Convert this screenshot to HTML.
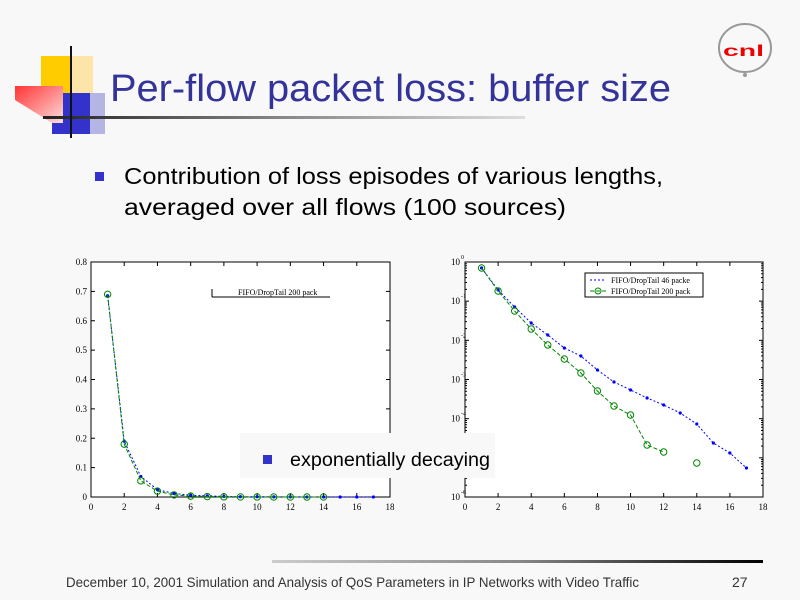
<!DOCTYPE html>
<html><head><meta charset="utf-8"><style>
html,body{margin:0;padding:0;background:#f8f8f8;}
svg{display:block;font-family:"Liberation Sans",sans-serif;}
</style></head><body>
<svg id="s" width="800" height="600" viewBox="0 0 800 600" xmlns="http://www.w3.org/2000/svg">
<defs>
<linearGradient id="tl" x1="0" x2="1"><stop offset="0" stop-color="#222"/><stop offset="0.5" stop-color="#888"/><stop offset="1" stop-color="#ddd"/></linearGradient>
<linearGradient id="fl" x1="0" x2="1"><stop offset="0" stop-color="#ccc"/><stop offset="0.5" stop-color="#888"/><stop offset="1" stop-color="#000"/></linearGradient>
<linearGradient id="rd" x1="0" y1="0" x2="1" y2="1"><stop offset="0" stop-color="#f33"/><stop offset="1" stop-color="#fdd"/></linearGradient>
</defs>
<rect width="800" height="600" fill="#f8f8f8"/>
<rect x="41" y="56" width="30" height="37" fill="#fc0"/>
<rect x="71" y="56" width="22" height="37" fill="#fd8" opacity="0.7"/>
<rect x="52" y="93" width="38" height="41" fill="#33c"/>
<rect x="90" y="93" width="15" height="41" fill="#99d" opacity="0.7"/>
<polygon points="15,86 63,86 63,123 52,123 15,100" fill="url(#rd)"/>
<rect x="43" y="116" width="482" height="3" fill="url(#tl)"/>
<rect x="70" y="46" width="2" height="92" fill="#111"/>
<text x="110" y="101" font-size="38" fill="#333399" textLength="561" lengthAdjust="spacingAndGlyphs">Per-flow packet loss: buffer size</text>
<ellipse cx="745" cy="48" rx="26" ry="24" fill="none" stroke="#999" stroke-width="2"/>
<circle cx="745" cy="75" r="2" fill="#999"/>
<text x="723" y="56" font-size="16" font-weight="bold" fill="#e00" textLength="41" lengthAdjust="spacingAndGlyphs">cnl</text>
<rect x="95" y="172" width="9" height="9" fill="#3333cc"/>
<text x="124" y="184" font-size="23" fill="#000" textLength="539" lengthAdjust="spacingAndGlyphs">Contribution of loss episodes of various lengths,</text>
<text x="124" y="215" font-size="23" fill="#000" textLength="442" lengthAdjust="spacingAndGlyphs">averaged over all flows (100 sources)</text>
<g id="charts" font-family="Liberation Serif,serif"></g>
<rect x="240" y="433" width="255" height="45" fill="#f8f8f8"/>
<rect x="263" y="455" width="9" height="9" fill="#3333cc"/>
<text x="290" y="466" font-size="19" fill="#000" textLength="200" lengthAdjust="spacingAndGlyphs">exponentially decaying</text>
<rect x="272" y="560" width="491" height="3" fill="url(#fl)"/>
<text x="66" y="587" font-size="14" fill="#333" textLength="573" lengthAdjust="spacingAndGlyphs">December 10, 2001 Simulation and Analysis of QoS Parameters in IP Networks with Video Traffic</text>
<text x="732" y="587" font-size="14" fill="#333">27</text>
</svg>
<script>
var g=document.getElementById('charts'),NS="http://www.w3.org/2000/svg";
function el(t,a,txt){var e=document.createElementNS(NS,t);for(var k in a)e.setAttribute(k,a[k]);if(txt!=null)e.textContent=txt;g.appendChild(e);return e;}
function axes(x0,x1,y0,y1){
 el('rect',{x:x0,y:y0,width:x1-x0,height:y1-y0,fill:'#fff',stroke:'#000','stroke-width':1});
 for(var i=0;i<=18;i+=2){var x=x0+(x1-x0)*i/18;el('line',{x1:x,x2:x,y1:y1,y2:y1-4,stroke:'#000'});el('line',{x1:x,x2:x,y1:y0,y2:y0+4,stroke:'#000'});el('text',{x:x,y:y1+13,'font-size':9,'text-anchor':'middle'},i);}
}
function series(pts,col,mk){
 el('polyline',{points:pts.map(p=>p.join(',')).join(' '),fill:'none',stroke:col,'stroke-width':1,'stroke-dasharray':mk=='o'?'4,2':'2,2'});
 pts.forEach(p=>{if(mk=='o')el('circle',{cx:p[0],cy:p[1],r:3.2,fill:'none',stroke:col});else el('circle',{cx:p[0],cy:p[1],r:1.6,fill:col});});
}
var L0=91,L1=390,T=262,B=497;
axes(L0,L1,T,B);
for(var v=0;v<=8;v++){var y=B-(B-T)*v/8;el('text',{x:L0-4,y:y+3,'font-size':9,'text-anchor':'end'},v==0?'0':(v/10).toFixed(1));el('line',{x1:L0,x2:L0+4,y1:y,y2:y,stroke:'#000'});el('line',{x1:L1,x2:L1-4,y1:y,y2:y,stroke:'#000'});}
var bl=[.685,.19,.07,.025,.012,.006,.004,.002,.001,.001,.0005,.0003,.0002,.0002,.0001,.0001,0.0001];
var gl=[.69,.18,.055,.02,.007,.003,.0015,.0006,.0002,.0001,.00003,.00002,0,.00001];
series(bl.map((v,i)=>[L0+(L1-L0)*(i+1)/18,B-v*(B-T)/0.8]),'#00f','.');
series(gl.map((v,i)=>[L0+(L1-L0)*(i+1)/18,B-v*(B-T)/0.8]),'#080','o');
el('rect',{x:212,y:281,width:118,height:12,fill:'#fff'});
el('line',{x1:212,x2:330,y1:297,y2:297,stroke:'#000'});
el('line',{x1:212,x2:212,y1:289,y2:297,stroke:'#000'});
el('text',{x:238,y:295,'font-size':8},'FIFO/DropTail 200 pack');
var R0=465,R1=763,ND=6,DH=(B-T)/ND;
axes(R0,R1,T,B);
for(var d=0;d<=ND;d++){var y=T+DH*d;
 if(d!=5){el('text',{x:R0-5,y:y+3,'font-size':9,'text-anchor':'end'},'10');el('text',{x:R0-4,y:y-3,'font-size':6},d==0?'0':'-'+d);}
 if(d<ND)for(var m=1;m<10;m++){var yl=T+DH*(d+1)-DH*Math.log10(m);el('line',{x1:R0,x2:R0+(m==1?4:2),y1:yl,y2:yl,stroke:'#000'});el('line',{x1:R1,x2:R1-(m==1?4:2),y1:yl,y2:yl,stroke:'#000'});}}
var by=[268,290,307,323,335,348,356,370,382,390,398,405,413,424,443,453,468];
var gy=[268,291,311,329,345,359,373,391,406,415,445,452,null,463];
function rx(i){return R0+(R1-R0)*i/18;}
series(by.map((y,i)=>[rx(i+1),y]),'#00f','.');
series(gy.slice(0,12).map((y,i)=>[rx(i+1),y]),'#080','o');
el('circle',{cx:rx(14),cy:463,r:3.2,fill:'none',stroke:'#080'});
el('rect',{x:585,y:273,width:118,height:24,fill:'#fff',stroke:'#000'});
el('line',{x1:590,x2:606,y1:280,y2:280,stroke:'#00f','stroke-dasharray':'2,2'});
el('line',{x1:590,x2:606,y1:291,y2:291,stroke:'#080','stroke-dasharray':'4,2'});
el('circle',{cx:598,cy:291,r:3,fill:'none',stroke:'#080'});
el('text',{x:611,y:283,'font-size':8},'FIFO/DropTail 46 packe');
el('text',{x:611,y:294,'font-size':8},'FIFO/DropTail 200 pack');
</script>
</body></html>
